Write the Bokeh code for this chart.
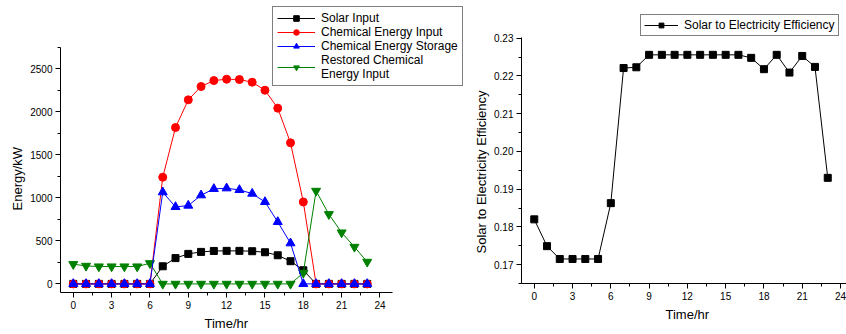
from bokeh.plotting import figure
from bokeh.layouts import row
from bokeh.models import Range1d, SingleIntervalTicker, Legend, LegendItem, PrintfTickFormatter, Title
from bokeh.embed import file_html
from bokeh.resources import INLINE

hours = [0, 1, 2, 3, 4, 5, 6, 7, 8, 9, 10, 11, 12, 13, 14, 15, 16, 17, 18, 19, 20, 21, 22, 23]
solar_input = [0, 0, 0, 0, 0, 0, 0, 205, 300, 349, 372, 383, 384, 384, 380, 368, 333, 264, 159, 0, 0, 0, 0, 0]
chem_input = [0, 0, 0, 0, 0, 0, 0, 1240, 1818, 2140, 2295, 2364, 2380, 2376, 2345, 2252, 2043, 1640, 953, 0, 0, 0, 0, 0]
chem_storage = [0, 0, 0, 0, 0, 0, 0, 1066, 895, 911, 1031, 1105, 1112, 1093, 1050, 953, 721, 473, 0, 0, 0, 0, 0, 0]
restored_input = [229, 209, 202, 202, 202, 202, 240, 0, 0, 0, 0, 0, 0, 0, 0, 0, 0, 0, 128, 1081, 810, 597, 430, 256]
efficiency = [0.1820, 0.1749, 0.1715, 0.1715, 0.1715, 0.1715, 0.1863, 0.2221, 0.2223, 0.2256, 0.2256, 0.2256,
              0.2256, 0.2256, 0.2256, 0.2256, 0.2256, 0.2248, 0.2218, 0.2256, 0.2209, 0.2253, 0.2224, 0.1930]

FONT = "Liberation Sans"


def style_axes(p):
    for ax in (p.xaxis[0], p.yaxis[0]):
        ax.axis_line_color = "black"
        ax.axis_line_width = 1
        ax.major_tick_in = 0
        ax.major_tick_out = 5
        ax.minor_tick_in = 0
        ax.minor_tick_out = 3
        ax.major_tick_line_color = "black"
        ax.minor_tick_line_color = "black"
        ax.major_label_text_font = FONT
        ax.major_label_text_font_size = "10px"
        ax.major_label_text_color = "black"
    p.xaxis[0].major_label_standoff = 3
    p.yaxis[0].major_label_standoff = 3
    p.xgrid.visible = False
    p.ygrid.visible = False
    p.outline_line_color = None


def add_title(p, text, side, offset, standoff):
    t = Title(text=text, align="left", offset=offset, text_font=FONT, text_font_size="13px",
              text_font_style="normal", text_color="black", standoff=standoff)
    p.add_layout(t, side)


def style_legend(lg):
    lg.label_text_font = FONT
    lg.label_text_font_size = "12px"
    lg.label_text_color = "black"
    lg.border_line_color = "black"
    lg.border_line_width = 1
    lg.background_fill_color = "white"
    lg.background_fill_alpha = 1.0
    lg.spacing = 0
    lg.margin = 0


# Left chart: frame spans x 60..466, y 0..292 (page px); axis lines limited by bounds
left = figure(width=466, height=334, title=None,
              x_range=Range1d(-1, 30.77), y_range=Range1d(-100, 3295),
              output_backend="svg", toolbar_location=None,
              min_border_left=60, min_border_right=0, min_border_top=0, min_border_bottom=42)
left.xaxis.ticker = SingleIntervalTicker(interval=3, num_minor_ticks=2)
left.yaxis.ticker = SingleIntervalTicker(interval=500, num_minor_ticks=2)
left.xaxis.bounds = (-1, 25)
left.yaxis.bounds = (-100, 2750)
style_axes(left)
add_title(left, "Time/hr", "below", 144, 4)
add_title(left, "Energy/kW", "left", 82, 5)

series = [
    ("Solar Input", solar_input, "black", "square", 7),
    ("Chemical Energy Input", chem_input, "red", "circle", 8),
    ("Restored Chemical\nEnergy Input", restored_input, "green", "inverted_triangle", 9),
    ("Chemical Energy Storage", chem_storage, "blue", "triangle", 9),
]
items = {}
for name, vals, col, mk, sz in series:
    ln = left.line(hours, vals, line_color=col, line_width=1)
    sc = left.scatter(hours, vals, marker=mk, size=sz, fill_color=col, line_color=col)
    items[name] = LegendItem(label=name, renderers=[ln, sc])

legend_l = Legend(items=[items["Solar Input"], items["Chemical Energy Input"],
                         items["Chemical Energy Storage"], items["Restored Chemical\nEnergy Input"]],
                  location=(212, 206))
style_legend(legend_l)
legend_l.padding = 4
legend_l.glyph_width = 38
legend_l.glyph_height = 14
legend_l.label_height = 14
legend_l.label_standoff = 6
left.add_layout(legend_l)

# Right chart: frame spans x 521..846, y 0..283
right = figure(width=380, height=325, title=None,
               x_range=Range1d(-1, 24.47), y_range=Range1d(0.165, 0.2400),
               output_backend="svg", toolbar_location=None,
               min_border_left=55, min_border_right=0, min_border_top=0, min_border_bottom=42)
right.xaxis.ticker = SingleIntervalTicker(interval=3, num_minor_ticks=2)
right.yaxis.ticker = SingleIntervalTicker(interval=0.01, num_minor_ticks=2)
right.yaxis.formatter = PrintfTickFormatter(format="%.2f")
right.xaxis.bounds = (-1, 24.47)
right.yaxis.bounds = (0.165, 0.2303)
style_axes(right)
add_title(right, "Time/hr", "below", 144, 5)
add_title(right, "Solar to Electricity Efficiency", "left", 30, 5)

eln = right.line(hours, efficiency, line_color="black", line_width=1)
esc = right.scatter(hours, efficiency, marker="square", size=7, fill_color="black", line_color="black")
legend_r = Legend(items=[LegendItem(label="Solar to Electricity Efficiency", renderers=[eln, esc])],
                  location=(119, 247))
style_legend(legend_r)
legend_r.padding = 3
legend_r.glyph_width = 34
legend_r.glyph_height = 12
legend_r.label_height = 12
legend_r.label_standoff = 6
right.add_layout(legend_r)

layout = row(left, right)
open("out.html", "w").write(file_html(layout, INLINE))
